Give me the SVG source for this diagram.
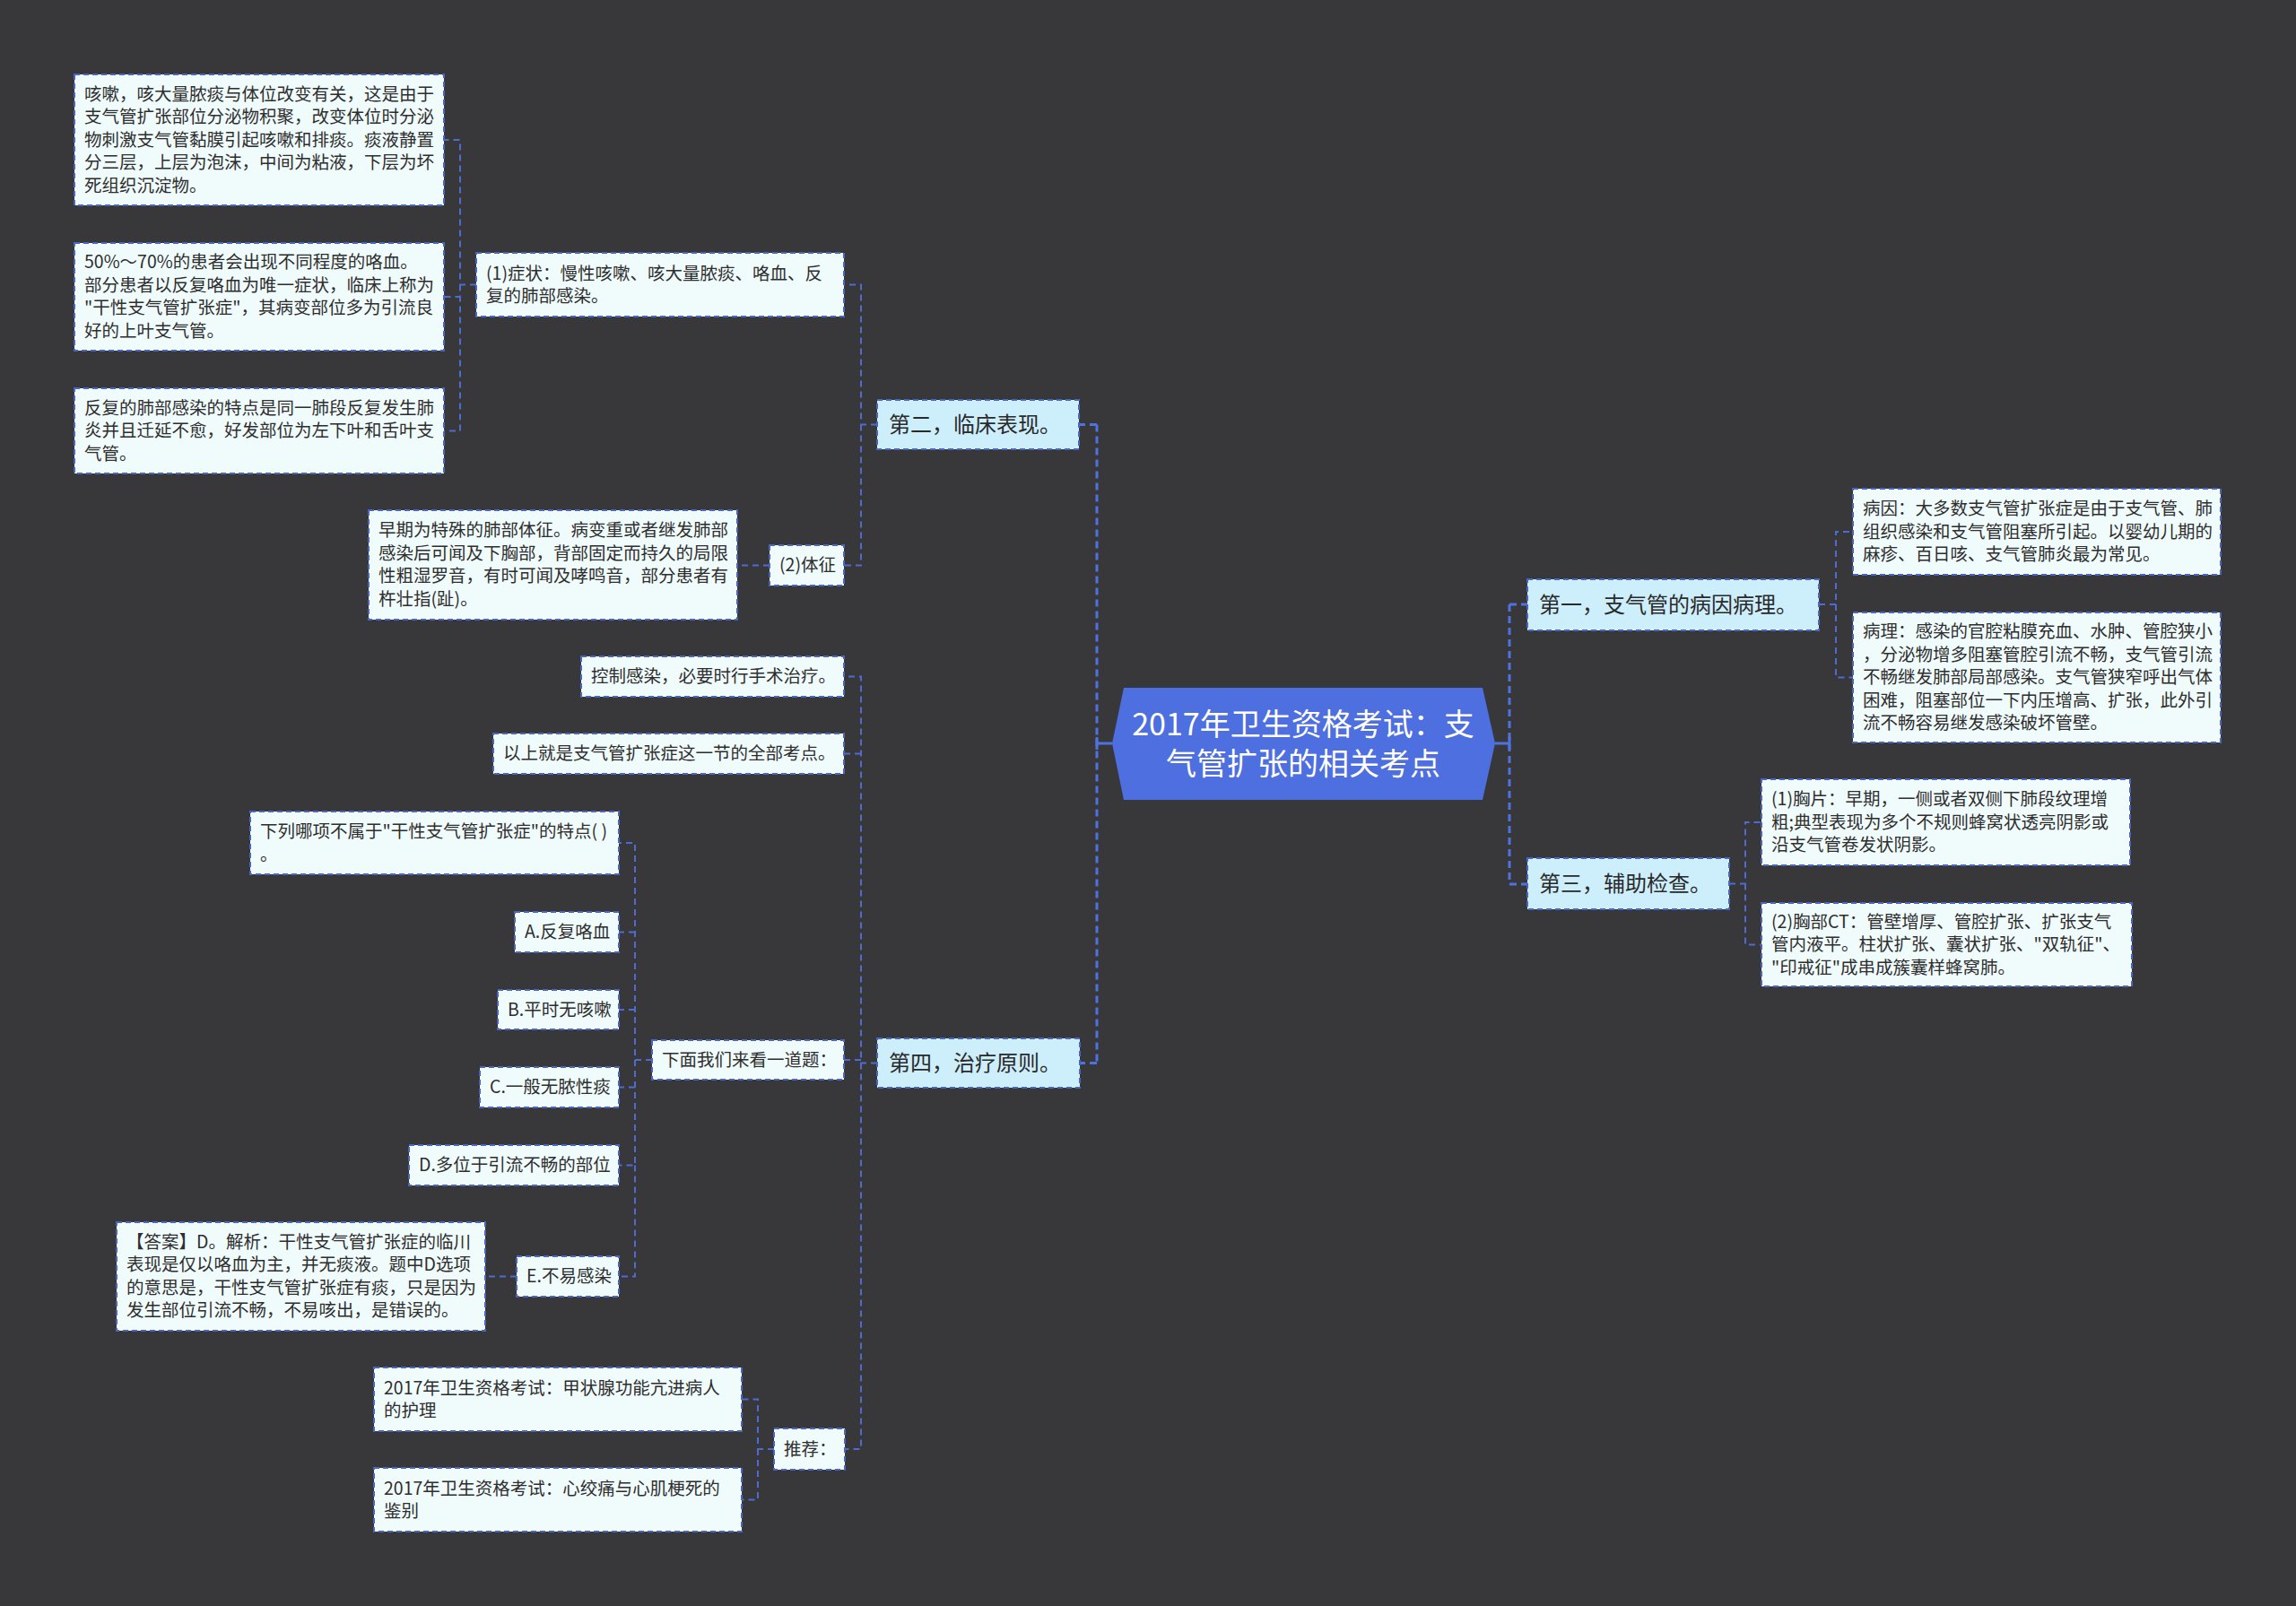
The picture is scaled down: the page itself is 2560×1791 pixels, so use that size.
<svg xmlns="http://www.w3.org/2000/svg" width="2560" height="1791" viewBox="0 0 2560 1791">
<style>
text{font-family:"Noto Sans CJK SC","Noto Sans",sans-serif;dominant-baseline:central;transform:translate(0px,-2px)}
.l2{fill:#f0fbfc;stroke:#4a66c4;stroke-width:2;stroke-dasharray:6 4}
.l1{fill:#cdeefb;stroke:#4a66c4;stroke-width:2;stroke-dasharray:6 4}
.t2{font-size:19.5px;fill:#2e2e2e}
.t1{font-size:24px;fill:#2a2a2a}
.tr{font-size:34px;fill:#ffffff;text-anchor:middle}
.c{fill:none;stroke:#4d6bd2;stroke-width:2;stroke-dasharray:7 5}
.cr{fill:none;stroke:#4f72e3;stroke-width:3;stroke-dasharray:8 5}
.cs{fill:none;stroke:#4f72e3;stroke-width:3}
</style>
<rect x="0" y="0" width="2560" height="1791" fill="#38383b"/>
<g id="connectors">
<path class="cs" d="M1240,829 H1223 M1223,822 V836"/>
<path class="cr" d="M1223,473.5 V1185.5 M1223,473.5 H1203 M1223,1185.5 H1204"/>
<path class="cs" d="M1667,829 H1683 M1683,822 V836"/>
<path class="cr" d="M1683,674 V986 M1683,674 H1703 M1683,986 H1703"/>
<path class="c" d="M978,473.5 H960 V317.5 H941 M960,473.5 V630.5 H941"/>
<path class="c" d="M531,317.5 H513 V156 H495 M513,317.5 V331 H495 M513,317.5 V480.5 H495"/>
<path class="c" d="M858,630.5 H822"/>
<path class="c" d="M978,1185.5 H960 V754.5 H941 M960,840.5 H941 M960,1182 H941 M960,1185.5 V1616 H942"/>
<path class="c" d="M727,1182 H708 V940 H690 M708,1039.5 H690 M708,1126 H690 M708,1212.5 H690 M708,1182 V1299.5 H690 M708,1299.5 V1423.5 H690"/>
<path class="c" d="M576,1423.5 H541"/>
<path class="c" d="M863,1616 H845 V1560.5 H827 M845,1616 V1672.5 H827"/>
<path class="c" d="M2028,674 H2047 V593 H2066 M2047,674 V755.5 H2066"/>
<path class="c" d="M1928,985.5 H1946 V917 H1964 M1946,985.5 V1053.5 H1964"/>
</g>
<g id="root">
<polygon points="1253,767 1653,767 1667,829 1653,892 1253,892 1240,829" fill="#4e6fe0"/>
<text class="tr" x="1453" y="807">2017年卫生资格考试：支</text>
<text class="tr" x="1453" y="851">气管扩张的相关考点</text>
</g>
<g id="n-2">
<rect class="l1" x="978" y="446" width="225" height="55"/>
<text class="t1" x="991" y="473.5">第二，临床表现。</text>
</g>
<g id="n-1">
<rect class="l1" x="1703" y="646" width="325" height="57"/>
<text class="t1" x="1716" y="674">第一，支气管的病因病理。</text>
</g>
<g id="n-3">
<rect class="l1" x="1703" y="957" width="225" height="57"/>
<text class="t1" x="1716" y="985.5">第三，辅助检查。</text>
</g>
<g id="n-4">
<rect class="l1" x="978" y="1158" width="226" height="55"/>
<text class="t1" x="991" y="1185.5">第四，治疗原则。</text>
</g>
<g id="n-symptom">
<rect class="l2" x="531" y="282" width="410" height="71"/>
<text class="t2" x="542" y="305">(1)症状：慢性咳嗽、咳大量脓痰、咯血、反</text>
<text class="t2" x="542" y="330.5">复的肺部感染。</text>
</g>
<g id="n-cough">
<rect class="l2" x="83" y="83" width="412" height="146"/>
<text class="t2" x="94" y="105">咳嗽，咳大量脓痰与体位改变有关，这是由于</text>
<text class="t2" x="94" y="130.5">支气管扩张部位分泌物积聚，改变体位时分泌</text>
<text class="t2" x="94" y="156">物刺激支气管黏膜引起咳嗽和排痰。痰液静置</text>
<text class="t2" x="94" y="181.5">分三层，上层为泡沫，中间为粘液，下层为坏</text>
<text class="t2" x="94" y="207">死组织沉淀物。</text>
</g>
<g id="n-hemoptysis">
<rect class="l2" x="83" y="271" width="412" height="120"/>
<text class="t2" x="94" y="292.5">50%～70%的患者会出现不同程度的咯血。</text>
<text class="t2" x="94" y="318">部分患者以反复咯血为唯一症状，临床上称为</text>
<text class="t2" x="94" y="343.5">"干性支气管扩张症"，其病变部位多为引流良</text>
<text class="t2" x="94" y="369">好的上叶支气管。</text>
</g>
<g id="n-infection">
<rect class="l2" x="83" y="433" width="412" height="95"/>
<text class="t2" x="94" y="455">反复的肺部感染的特点是同一肺段反复发生肺</text>
<text class="t2" x="94" y="480.5">炎并且迁延不愈，好发部位为左下叶和舌叶支</text>
<text class="t2" x="94" y="506">气管。</text>
</g>
<g id="n-signs">
<rect class="l2" x="858" y="608" width="83" height="45"/>
<text class="t2" x="869" y="630.5">(2)体征</text>
</g>
<g id="n-early">
<rect class="l2" x="411" y="569" width="411" height="122"/>
<text class="t2" x="422" y="591.5">早期为特殊的肺部体征。病变重或者继发肺部</text>
<text class="t2" x="422" y="617">感染后可闻及下胸部，背部固定而持久的局限</text>
<text class="t2" x="422" y="642.5">性粗湿罗音，有时可闻及哮鸣音，部分患者有</text>
<text class="t2" x="422" y="668">杵壮指(趾)。</text>
</g>
<g id="n-control">
<rect class="l2" x="648" y="732" width="293" height="45"/>
<text class="t2" x="659" y="754.5">控制感染，必要时行手术治疗。</text>
</g>
<g id="n-summary">
<rect class="l2" x="550" y="818" width="391" height="45"/>
<text class="t2" x="561" y="840.5">以上就是支气管扩张症这一节的全部考点。</text>
</g>
<g id="n-question">
<rect class="l2" x="727" y="1160" width="214" height="44"/>
<text class="t2" x="738" y="1182">下面我们来看一道题：</text>
</g>
<g id="n-q">
<rect class="l2" x="279" y="905" width="411" height="70"/>
<text class="t2" x="290" y="927.5">下列哪项不属于"干性支气管扩张症"的特点( )</text>
<text class="t2" x="290" y="953">。</text>
</g>
<g id="n-a">
<rect class="l2" x="574" y="1017" width="116" height="45"/>
<text class="t2" x="585" y="1039.5">A.反复咯血</text>
</g>
<g id="n-b">
<rect class="l2" x="555" y="1104" width="135" height="44"/>
<text class="t2" x="566" y="1126">B.平时无咳嗽</text>
</g>
<g id="n-c">
<rect class="l2" x="535" y="1190" width="155" height="45"/>
<text class="t2" x="546" y="1212.5">C.一般无脓性痰</text>
</g>
<g id="n-d">
<rect class="l2" x="456" y="1277" width="234" height="45"/>
<text class="t2" x="467" y="1299.5">D.多位于引流不畅的部位</text>
</g>
<g id="n-e">
<rect class="l2" x="576" y="1401" width="114" height="45"/>
<text class="t2" x="587" y="1423.5">E.不易感染</text>
</g>
<g id="n-answer">
<rect class="l2" x="130" y="1363" width="411" height="121"/>
<text class="t2" x="141" y="1385">【答案】D。解析：干性支气管扩张症的临川</text>
<text class="t2" x="141" y="1410.5">表现是仅以咯血为主，并无痰液。题中D选项</text>
<text class="t2" x="141" y="1436">的意思是，干性支气管扩张症有痰，只是因为</text>
<text class="t2" x="141" y="1461.5">发生部位引流不畅，不易咳出，是错误的。</text>
</g>
<g id="n-recommend">
<rect class="l2" x="863" y="1593" width="79" height="46"/>
<text class="t2" x="874" y="1616">推荐：</text>
</g>
<g id="n-rec1">
<rect class="l2" x="417" y="1525" width="410" height="71"/>
<text class="t2" x="428" y="1548">2017年卫生资格考试：甲状腺功能亢进病人</text>
<text class="t2" x="428" y="1573.5">的护理</text>
</g>
<g id="n-rec2">
<rect class="l2" x="417" y="1637" width="410" height="71"/>
<text class="t2" x="428" y="1660">2017年卫生资格考试：心绞痛与心肌梗死的</text>
<text class="t2" x="428" y="1685.5">鉴别</text>
</g>
<g id="n-cause">
<rect class="l2" x="2066" y="545" width="410" height="96"/>
<text class="t2" x="2077" y="567.5">病因：大多数支气管扩张症是由于支气管、肺</text>
<text class="t2" x="2077" y="593">组织感染和支气管阻塞所引起。以婴幼儿期的</text>
<text class="t2" x="2077" y="618.5">麻疹、百日咳、支气管肺炎最为常见。</text>
</g>
<g id="n-pathology">
<rect class="l2" x="2066" y="683" width="410" height="145"/>
<text class="t2" x="2077" y="704.5">病理：感染的官腔粘膜充血、水肿、管腔狭小</text>
<text class="t2" x="2077" y="730">，分泌物增多阻塞管腔引流不畅，支气管引流</text>
<text class="t2" x="2077" y="755.5">不畅继发肺部局部感染。支气管狭窄呼出气体</text>
<text class="t2" x="2077" y="781">困难，阻塞部位一下内压增高、扩张，此外引</text>
<text class="t2" x="2077" y="806.5">流不畅容易继发感染破坏管壁。</text>
</g>
<g id="n-xray">
<rect class="l2" x="1964" y="869" width="411" height="96"/>
<text class="t2" x="1975" y="891.5">(1)胸片：早期，一侧或者双侧下肺段纹理增</text>
<text class="t2" x="1975" y="917">粗;典型表现为多个不规则蜂窝状透亮阴影或</text>
<text class="t2" x="1975" y="942.5">沿支气管卷发状阴影。</text>
</g>
<g id="n-ct">
<rect class="l2" x="1964" y="1007" width="413" height="93"/>
<text class="t2" x="1975" y="1028">(2)胸部CT：管壁增厚、管腔扩张、扩张支气</text>
<text class="t2" x="1975" y="1053.5">管内液平。柱状扩张、囊状扩张、"双轨征"、</text>
<text class="t2" x="1975" y="1079">"印戒征"成串成簇囊样蜂窝肺。</text>
</g>
</svg>
